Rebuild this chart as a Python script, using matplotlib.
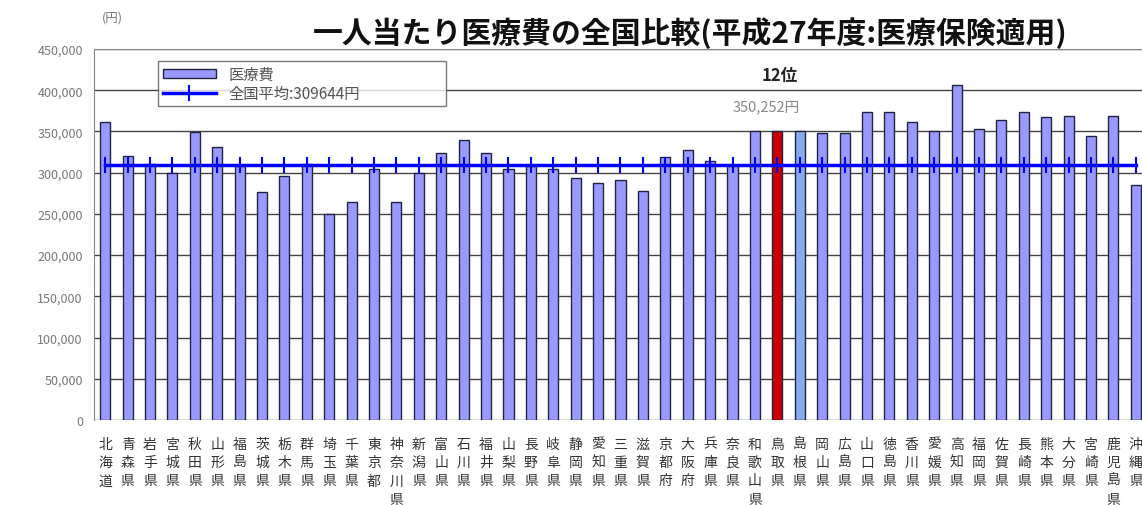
import matplotlib.pyplot as plt
import numpy as np

plt.rcParams['font.family'] = ['Noto Sans CJK JP', 'DejaVu Sans']

prefs = ['北海道', '青森県', '岩手県', '宮城県', '秋田県', '山形県', '福島県', '茨城県',
         '栃木県', '群馬県', '埼玉県', '千葉県', '東京都', '神奈川県', '新潟県', '富山県',
         '石川県', '福井県', '山梨県', '長野県', '岐阜県', '静岡県', '愛知県', '三重県',
         '滋賀県', '京都府', '大阪府', '兵庫県', '奈良県', '和歌山県', '鳥取県', '島根県',
         '岡山県', '広島県', '山口県', '徳島県', '香川県', '愛媛県', '高知県', '福岡県',
         '佐賀県', '長崎県', '熊本県', '大分県', '宮崎県', '鹿児島県', '沖縄県']
costs = [361000, 320500, 311000, 300000, 349000, 330800, 308000, 276000,
         295600, 310000, 250000, 265000, 305000, 265000, 299000, 323500,
         339600, 323500, 305000, 307700, 304000, 294000, 288000, 291000,
         278000, 319000, 327500, 314600, 309000, 350000, 350252, 351000,
         348000, 348000, 373000, 373000, 362000, 350500, 406000, 353000,
         364000, 374000, 368000, 369000, 345000, 369000, 285000]
national_avg = 309644
highlight = '鳥取県'
highlight_rank = '12位'

x = np.arange(len(prefs))
colors = ['#9999FF'] * len(prefs)
colors[prefs.index(highlight)] = '#CC0000'
colors[prefs.index('島根県')] = '#88AAEE'

fig = plt.figure(figsize=(11.42, 5.06), dpi=100)
ax = fig.add_axes([94 / 1142, 1 - 421 / 506, 1053 / 1142, 371 / 506])

ax.set_axisbelow(True)
ax.yaxis.grid(True, color='#444444', linewidth=1)
bars = ax.bar(x, costs, width=0.45, color=colors, edgecolor='#222244', linewidth=1)
line, = ax.plot(x, [national_avg] * len(x), color='#0000FF', linewidth=2.5,
                marker='|', markersize=12, markeredgewidth=1.5)

ax.set_xlim(-0.5, len(prefs) - 0.5)
ax.set_ylim(0, 450000)
ax.set_yticks(np.arange(0, 450001, 50000))
ax.set_yticklabels(['{:,}'.format(v) for v in range(0, 450001, 50000)],
                   color='#777777', fontsize=9)
ax.set_xticks(x)
ax.set_xticklabels(['\n'.join(p) for p in prefs], fontsize=10, color='#333333',
                   linespacing=1.4, va='top')
ax.tick_params(axis='x', length=0, pad=12)
ax.tick_params(axis='y', length=0, pad=8)
for s in ['right', 'bottom']:
    ax.spines[s].set_visible(False)
ax.spines['left'].set_color('#888888')
ax.spines['top'].set_color('#888888')

# legend box roughly x 158-446, y 62-113 in the picture
leg = ax.legend([bars[0], line], ['医療費', '全国平均:%d円' % national_avg],
                loc='upper left',
                bbox_to_anchor=(64 / 1053, 1 - 12 / 371, 288 / 1053, 0.0),
                mode='expand', fontsize=11, frameon=True, fancybox=False,
                edgecolor='#555555', handlelength=3.5, handleheight=0.5,
                labelspacing=0.15, borderpad=0.3, borderaxespad=0)
leg.legend_handles[0].set_facecolor('#9999FF')
leg.get_frame().set_linewidth(1)
for t in leg.get_texts():
    t.set_color('#555555')

i = prefs.index(highlight)
ax.text(i + 0.1, 419000, highlight_rank, ha='center', va='center', fontsize=12,
        fontweight='bold', color='#222222')
ax.text(i - 0.5, 380000, '{:,}円'.format(costs[i]), ha='center',
        va='center', fontsize=10.5, color='#888888')

fig.text(690 / 1142, 1 - 33 / 506, '一人当たり医療費の全国比較(平成27年度:医療保険適用)',
         ha='center', va='center', fontsize=21.5, fontweight='bold', color='#111111')
fig.text(112 / 1142, 1 - 18 / 506, '(円)', ha='center', va='center',
         fontsize=9, color='#777777')

fig.savefig('out.png', dpi=100)
